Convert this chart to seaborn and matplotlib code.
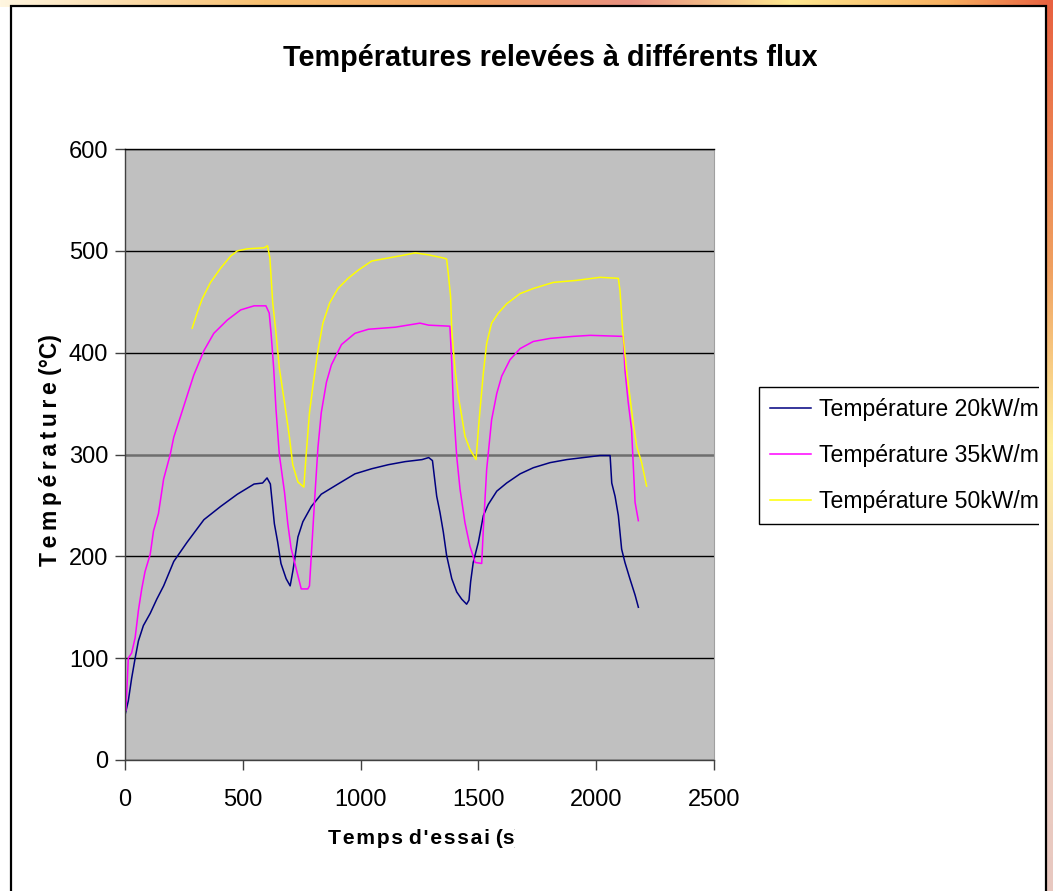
import matplotlib
matplotlib.use("Agg")
import numpy as np
import pandas as pd
import seaborn as sns
import matplotlib.pyplot as plt
from matplotlib.patches import Rectangle
from matplotlib.transforms import Bbox
from matplotlib.font_manager import findfont, FontProperties
from matplotlib.colors import to_rgb

# ---------------- data ----------------
labels = ["Température 20kW/m²", "Température 35kW/m²", "Température 50kW/m²"]
colors = ["#000080", "#FF00FF", "#FFFF00"]

t20 = [0, 14, 28, 43, 57, 78, 107, 135, 164, 207, 264, 335, 406, 477, 548, 584, 603, 617, 634, 648,
       662, 684, 701, 712, 719, 734, 755, 791, 833, 904, 976, 1047, 1118, 1189, 1261, 1289, 1305, 1323,
       1337, 1351, 1365, 1387, 1408, 1429, 1450, 1460, 1467, 1478, 1500, 1521, 1542, 1578, 1620, 1677,
       1733, 1804, 1875, 1946, 2016, 2059, 2066, 2080, 2094, 2108, 2122, 2143, 2165, 2179]
v20 = [44, 58, 80, 100, 117, 132, 144, 158, 171, 195, 214, 236, 249, 261, 271, 272, 277, 271, 232, 214,
       193, 178, 171, 185, 195, 219, 234, 249, 261, 271, 281, 286, 290, 293, 295, 297, 294, 259,
       243, 224, 201, 178, 165, 158, 153, 157, 175, 194, 214, 240, 251, 264, 272, 281,
       287, 292, 295, 297, 299, 299, 272, 259, 240, 207, 194, 178, 162, 150]

t35 = [4, 14, 28, 43, 57, 71, 85, 107, 121, 142, 164, 192, 207, 235, 264, 292, 335, 377, 434, 491,
       548, 598, 612, 620, 631, 641, 655, 677, 691, 705, 719, 734, 748, 776, 783, 791, 805, 819, 833, 855,
       876, 919, 976, 1033, 1147, 1252, 1289, 1379, 1387, 1394, 1408, 1422, 1443, 1464, 1486, 1514, 1521,
       1535, 1556, 1578, 1599, 1634, 1677, 1733, 1804, 1903, 1974, 2115, 2122, 2136, 2150, 2165, 2179]
v35 = [49, 100, 105, 120, 147, 168, 185, 202, 225, 242, 276, 300, 317, 337, 358, 378, 402, 419, 432, 442,
       446, 446, 439, 419, 385, 344, 300, 263, 232, 208, 195, 181, 168, 168, 171, 202, 256, 307, 341, 371,
       388, 408, 419, 423, 425, 429, 427, 426, 390, 347, 298, 266, 233, 210, 194, 193, 227,
       285, 334, 360, 377, 393, 404, 411, 414, 416, 417, 416, 383, 351, 325, 253, 235]

t50 = [285, 306, 328, 363, 406, 449, 477, 520, 591, 605, 615, 627, 641, 655, 677, 698, 712, 734, 759, 769,
       783, 798, 819, 840, 869, 904, 947, 990, 1047, 1118, 1189, 1232, 1289, 1351, 1365, 1372, 1382, 1387,
       1401, 1415, 1429, 1443, 1464, 1490, 1500, 1507, 1521, 1535, 1556, 1585, 1620, 1677, 1733, 1818,
       1917, 2016, 2094, 2101, 2112, 2129, 2143, 2157, 2172, 2193, 2214]
v50 = [424, 439, 453, 469, 483, 495, 500, 502, 503, 505, 493, 449, 419, 385, 351, 317, 290, 273, 268, 300,
       341, 368, 402, 429, 449, 463, 473, 481, 490, 493, 496, 498, 496, 493, 492, 478, 455, 422,
       383, 357, 338, 318, 305, 295, 325, 344, 380, 409, 429, 439, 448, 458, 463, 469,
       471, 474, 473, 461, 422, 383, 357, 331, 308, 292, 269]

xticks = [0, 500, 1000, 1500, 2000, 2500]
yticks = [0, 100, 200, 300, 400, 500, 600]

title = "Températures relevées à différents flux"
xlabel = "Temps d'essai (s)"
ylabel = "Température (°C)"

# ---------------- fonts ----------------
def has_font(name):
    try:
        findfont(FontProperties(family=name), fallback_to_default=False)
        return True
    except Exception:
        return False

BASE = ["Liberation Sans", "DejaVu Sans"]
narrow = has_font("Liberation Sans Narrow")
plt.rcParams["font.family"] = BASE

W, H = 1053, 891
fig = plt.figure(figsize=(W / 100, H / 100), dpi=100)

# ---------------- background gradient (decorative frame) ----------------
def grad(stops, n):
    pos = np.array([p for p, _ in stops])
    cols = np.array([to_rgb(c) for _, c in stops])
    x = np.linspace(0, 1, n)
    return np.stack([np.interp(x, pos, cols[:, i]) for i in range(3)], axis=1)

hstops = [(0, "#fff6e0"), (0.25, "#f8c070"), (0.45, "#f0a060"), (0.6, "#e89080"),
          (0.75, "#ffe890"), (0.9, "#f8b060"), (1, "#e86040")]
vstops = [(0, "#e86040"), (0.3, "#f0a060"), (0.5, "#fff0a0"), (0.7, "#f0d0c0"), (1, "#e8c8c0")]
img = np.repeat(grad(vstops, H)[:, None, :], W, axis=1)
img[:, :1000, :] = 1.0
img[:7, :, :] = grad(hstops, W)[None, :, :]
bg = fig.add_axes([0, 0, 1, 1], zorder=-10)
bg.imshow(img, aspect="auto", extent=[0, 1, 0, 1])
bg.axis("off")

fig.patches.append(Rectangle((11 / W, -0.02), (1046 - 11) / W, 1 - 6 / H + 0.02,
                             transform=fig.transFigure, facecolor="white",
                             edgecolor="black", linewidth=1.6, zorder=-5))

# ---------------- plot ----------------
ax = fig.add_axes([125 / W, 131 / H, 589 / W, 611 / H])
ax.set_facecolor("#C0C0C0")

df = pd.concat([
    pd.DataFrame({"Temps": t20, "Température": v20, "Série": labels[0]}),
    pd.DataFrame({"Temps": t35, "Température": v35, "Série": labels[1]}),
    pd.DataFrame({"Temps": t50, "Température": v50, "Série": labels[2]}),
], ignore_index=True)

sns.lineplot(data=df, x="Temps", y="Température", hue="Série",
             palette=dict(zip(labels, colors)), hue_order=labels,
             sort=False, estimator=None, legend=False, linewidth=1.1, ax=ax)

ax.set_xlim(0, 2500)
ax.set_ylim(0, 600)
ax.set_xticks(xticks)
ax.set_yticks(yticks)
ax.set_xlabel("")
ax.set_ylabel("")
ax.set_axisbelow(True)
ax.yaxis.grid(True, color="black", linewidth=1.0)
ax.xaxis.grid(False)
gl = ax.yaxis.get_gridlines()
gl[3].set_color("#6e6e6e")
gl[3].set_linewidth(1.8)

for s in ["left", "bottom"]:
    ax.spines[s].set_color("#404040")
    ax.spines[s].set_linewidth(1.0)
ax.spines["right"].set_color("#a0a0a0")
ax.spines["top"].set_color("black")
ax.spines["top"].set_linewidth(1.0)

ax.tick_params(axis="both", direction="out", length=7, width=1, color="#404040",
               labelsize=17, labelcolor="black")
ax.tick_params(axis="x", pad=14)
ax.tick_params(axis="y", pad=5)

# ---------------- texts ----------------
if narrow:
    ttl = fig.text(283 / W, 1 - 58 / H, title, ha="left", va="center", fontsize=25,
                   fontweight="bold", family=["Liberation Sans Narrow"] + BASE)
else:
    ttl = fig.text(283 / W, 1 - 58 / H, title, ha="left", va="center", fontsize=20.8,
                   fontweight="bold", family=BASE)
ttl.set_clip_box(Bbox.from_extents(0, 0, 817, H))
ttl.set_clip_on(True)

thin = "\u2009"
yl_txt = thin.join("Température") + " (°C)"
fig.text(51 / W, 1 - 450 / H, yl_txt, rotation=90, ha="center", va="center",
         fontsize=16.5, fontweight="bold", family=BASE)

hair = "\u200a"
xl_txt = hair.join("Temps") + " " + hair.join("d'essai") + " (s)"
xl = fig.text(425 / W, 1 - 838 / H, xl_txt, ha="center", va="center",
              fontsize=15.2, fontweight="bold", family=BASE)
xl.set_clip_box(Bbox.from_extents(0, 0, 515, H))
xl.set_clip_on(True)

# ---------------- legend ----------------
leg = fig.legend(handles=ax.get_lines()[:3], labels=labels, loc="upper left",
                 bbox_to_anchor=(759 / W, 1 - 387 / H), bbox_transform=fig.transFigure,
                 frameon=True, fancybox=False, edgecolor="black", facecolor="white",
                 framealpha=1, fontsize=16.6, handlelength=1.8, handletextpad=0.35,
                 labelspacing=1.0, borderpad=0.47, borderaxespad=0)
leg.get_frame().set_linewidth(1.0)
clip = Bbox.from_extents(0, 0, 1039, H)
leg.legendPatch.set_clip_box(clip)
leg.legendPatch.set_clip_on(True)
for t in leg.get_texts():
    t.set_clip_box(clip)
    t.set_clip_on(True)

fig.savefig("out.png", dpi=100)
